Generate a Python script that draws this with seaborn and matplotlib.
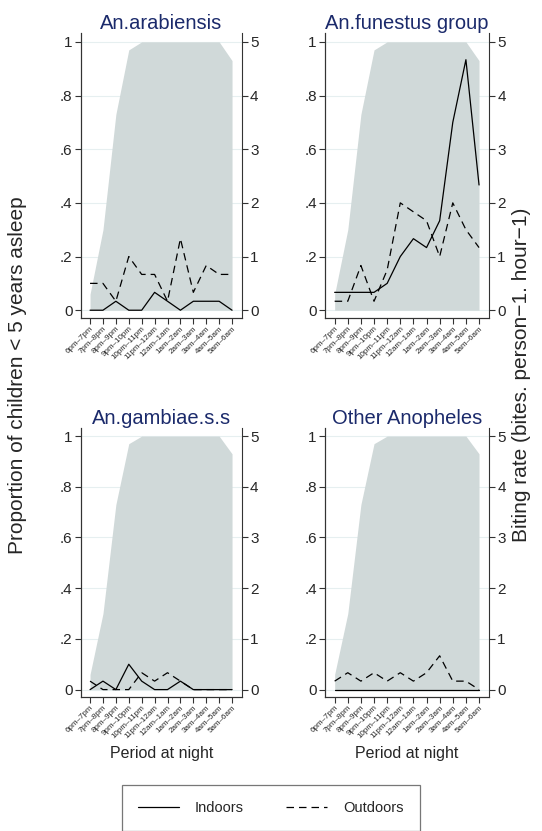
import matplotlib
matplotlib.use("Agg")
import matplotlib.pyplot as plt
from matplotlib.lines import Line2D
import numpy as np
import pandas as pd
import seaborn as sns

periods = ["6pm–7pm", "7pm–8pm", "8pm–9pm", "9pm–10pm", "10pm–11pm", "11pm–12am",
           "12am–1am", "1am–2am", "2am–3am", "3am–4am", "4am–5am", "5am–6am"]

# proportion of children < 5 years asleep (left axis)
asleep = [0.06, 0.30, 0.73, 0.97, 1.0, 1.0, 1.0, 1.0, 1.0, 1.0, 1.0, 0.93]

# biting rates (right axis)
arab_in = [0, 0, 0.167, 0, 0, 0.333, 0.167, 0, 0.167, 0.167, 0.167, 0]
arab_out = [0.5, 0.5, 0.167, 1.0, 0.667, 0.667, 0.167, 1.333, 0.333, 0.833, 0.667, 0.667]
fun_in = [0.333, 0.333, 0.333, 0.333, 0.5, 1.0, 1.333, 1.167, 1.667, 3.5, 4.667, 2.333]
fun_out = [0.167, 0.167, 0.833, 0.167, 0.75, 2.0, 1.833, 1.667, 1.0, 2.0, 1.5, 1.167]
gam_in = [0, 0.167, 0, 0.5, 0.167, 0, 0, 0.167, 0, 0, 0, 0]
gam_out = [0.167, 0, 0, 0, 0.333, 0.167, 0.333, 0.167, 0, 0, 0, 0]
oth_in = [0, 0, 0, 0, 0, 0, 0, 0, 0, 0, 0, 0]
oth_out = [0.167, 0.333, 0.167, 0.333, 0.167, 0.333, 0.167, 0.333, 0.667, 0.167, 0.167, 0]

panels = [("An.arabiensis", arab_in, arab_out),
          ("An.funestus group", fun_in, fun_out),
          ("An.gambiae.s.s", gam_in, gam_out),
          ("Other Anopheles", oth_in, oth_out)]

sns.set_style("white")
plt.rcParams['font.family'] = ['Liberation Sans', 'DejaVu Sans']

fig = plt.figure(figsize=(5.42, 8.31), dpi=100)
rects = [(0.149, 0.617, 0.297, 0.343), (0.600, 0.617, 0.302, 0.343),
         (0.149, 0.161, 0.297, 0.324), (0.600, 0.161, 0.302, 0.324)]

x = np.arange(len(periods))
spine_col = "#333333"

for i, (name, ind, outd) in enumerate(panels):
    ax = fig.add_axes(rects[i])
    ax.fill_between(x, asleep, 0, color="#d0d9d9", lw=0, zorder=2)
    ax.set_ylim(-0.03, 1.032)
    ax.set_xlim(-0.72, 11.75)
    ax.set_yticks([0, 0.2, 0.4, 0.6, 0.8, 1])
    ax.set_yticklabels(["0", ".2", ".4", ".6", ".8", "1"])
    ax.yaxis.grid(True, color="#e6eff0", lw=0.8)
    ax.set_axisbelow(True)
    ax.set_xticks(x)
    ax.set_xticklabels(periods, rotation=45, ha="right", rotation_mode="anchor", fontsize=5.8)
    ax.set_title(name, color="#1b2a6b", fontsize=14.5, pad=3)

    ax2 = ax.twinx()
    df = pd.DataFrame({"x": np.concatenate([x, x]),
                       "rate": ind + outd,
                       "loc": ["Indoors"] * len(x) + ["Outdoors"] * len(x)})
    sns.lineplot(df, x="x", y="rate", style="loc", dashes={"Indoors": "", "Outdoors": (6, 4)},
                 color="black", lw=0.9, ax=ax2, legend=False)
    ax2.set_ylim(-0.15, 5.16)
    ax2.set_yticks([0, 1, 2, 3, 4, 5])
    ax2.set_ylabel("")
    ax2.set_xlabel("")

    for a in (ax, ax2):
        a.spines["top"].set_visible(False)
        for s in a.spines.values():
            s.set_color(spine_col)
            s.set_linewidth(0.8)
        a.tick_params(axis="both", direction="out", length=4, width=0.8, color=spine_col,
                      labelsize=11, pad=2)
    ax.spines["right"].set_visible(False)
    ax.tick_params(axis="x", labelsize=5.8, length=4, pad=1)
    ax.tick_params(left=True, bottom=True)
    ax2.tick_params(right=True)

    if i >= 2:
        ax.set_xlabel("Period at night", fontsize=11.5, labelpad=4)

fig.text(0.033, 0.549, "Proportion of children < 5 years asleep", rotation=90,
         ha="center", va="center", fontsize=15)
fig.text(0.963, 0.549, "Biting rate (bites. person−1. hour−1)", rotation=90,
         ha="center", va="center", fontsize=15)

handles = [Line2D([], [], color="black", lw=0.9),
           Line2D([], [], color="black", lw=0.9, dashes=(6, 4))]
leg = fig.legend(handles, ["Indoors", "Outdoors"], loc="upper center",
                 bbox_to_anchor=(0.5, 1 - 785 / 831), borderaxespad=0,
                 ncol=2, fontsize=10.5, handlelength=2.8, frameon=True, fancybox=False,
                 borderpad=1.1, handletextpad=1.1, columnspacing=2.9)
leg.get_frame().set_edgecolor("#555555")
leg.get_frame().set_linewidth(0.9)

fig.savefig("out.png", dpi=100)
